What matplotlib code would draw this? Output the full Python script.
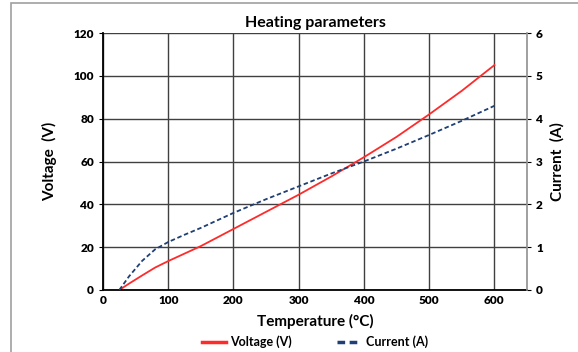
import matplotlib
matplotlib.use("Agg")
import matplotlib.pyplot as plt
from matplotlib.patches import Rectangle
from matplotlib.lines import Line2D

temp = [25, 40, 60, 80, 100, 125, 150, 200, 250, 300, 350, 400, 450, 500, 550, 600]
voltage = [0, 3, 6.8, 10.5, 13.5, 17, 20.5, 28.5, 36.5, 44.5, 53, 62, 71.5, 82, 93, 105]
current = [0, 0.32, 0.68, 0.95, 1.12, 1.29, 1.45, 1.8, 2.12, 2.42, 2.72, 3.0, 3.3, 3.62, 3.95, 4.3]
xticks = [0, 100, 200, 300, 400, 500, 600]
yticks_v = [0, 20, 40, 60, 80, 100, 120]
yticks_i = [0, 1, 2, 3, 4, 5, 6]

plt.rcParams['font.family'] = ['Lato', 'DejaVu Sans']
plt.rcParams['font.weight'] = 'bold'
fig = plt.figure(figsize=(5.78, 3.52), dpi=100)
fig.patches.append(Rectangle((11/578, -0.1), 1.0, 1 - 3/352 + 0.1, transform=fig.transFigure,
                             fill=False, edgecolor='#a0a0a0', linewidth=1.2))
ax = fig.add_axes([103/578, 1 - 290/352, 424/578, 257/352])
ax2 = ax.twinx()

red = '#ff2a2a'
navy = '#1f3f75'
ax.plot(temp, voltage, color=red, lw=1.3)
ax2.plot(temp, current, color=navy, lw=1.3, ls=(0, (2.5, 1.5)))

ax.set_xlim(0, 650)
ax.set_ylim(0, 120)
ax2.set_ylim(0, 6)
ax.set_xticks(xticks)
ax.set_yticks(yticks_v)
ax2.set_yticks(yticks_i)
ax.grid(True, color='#404040', lw=1.0)
ax.set_axisbelow(True)

for a in (ax, ax2):
    a.tick_params(labelsize=8.5, width=0.8, length=3, colors='black')
    for lab in a.get_xticklabels() + a.get_yticklabels():
        lab.set_fontweight('heavy')
ax.tick_params(axis='x', length=0)
ax.spines['left'].set_color('black')
ax.spines['bottom'].set_color('black')
ax.spines['left'].set_linewidth(1.3)
ax.spines['bottom'].set_linewidth(1.3)
ax.spines['top'].set_visible(False)
ax2.spines['top'].set_visible(False)
ax2.spines['left'].set_visible(False)
ax2.spines['bottom'].set_visible(False)
ax2.spines['right'].set_color('#909090')
ax2.spines['right'].set_linewidth(1.2)
ax.spines['right'].set_visible(False)

ax.set_title('Heating parameters', fontsize=11.5, fontweight='bold', pad=4)
ax.set_xlabel('Temperature (°C)', fontsize=11, fontweight='bold', labelpad=6)
ax.set_ylabel('Voltage  (V)', fontsize=11, fontweight='bold', va='center', ha='center')
ax2.set_ylabel('Current  (A)', fontsize=11, fontweight='bold', va='center', ha='center')
ax.yaxis.set_label_coords(-0.125, 0.5)
ax2.yaxis.set_label_coords(1.071, 0.5)

h1 = Line2D([], [], color=red, lw=2.5)
h2 = Line2D([], [], color=navy, lw=2.5, ls=(0, (2.2, 1.3)))
fig.legend(handles=[h1, h2], labels=['Voltage (V)', 'Current (A)'], loc='center',
           bbox_to_anchor=(315/578, 1 - 342/352), ncol=2,
           frameon=False, prop={'weight': 'bold', 'size': 9}, handlelength=1.9,
           columnspacing=3.6, handletextpad=0.4)

fig.savefig('out.png', dpi=100)
